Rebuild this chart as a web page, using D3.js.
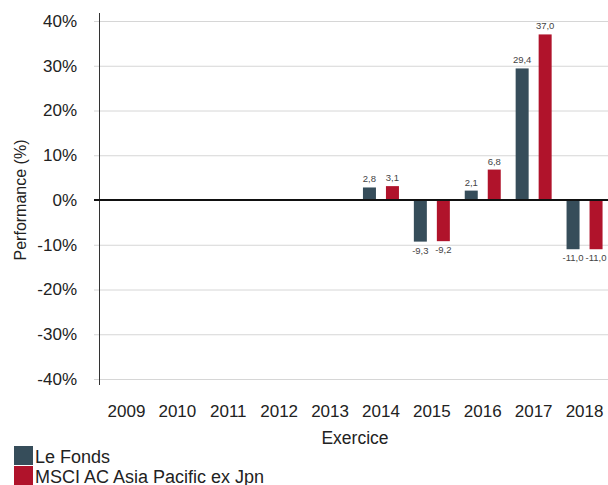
<!DOCTYPE html>
<html>
<head>
<meta charset="utf-8">
<script src="https://cdn.jsdelivr.net/npm/d3@7"></script>
<style>
  body { margin: 0; background: #fff; }
  text { font-family: "Liberation Sans", Arial, sans-serif; }
</style>
</head>
<body>
<div id="chart"></div>
<script>
// chart values
const years = ["2009", "2010", "2011", "2012", "2013", "2014", "2015", "2016", "2017", "2018"];
const fonds = [null, null, null, null, null, 2.8, -9.3, 2.1, 29.4, -11.0];
const msci = [null, null, null, null, null, 3.1, -9.2, 6.8, 37.0, -11.0];
const yTicks = [40, 30, 20, 10, 0, -10, -20, -30, -40];
const seriesNames = ["Le Fonds", "MSCI AC Asia Pacific ex Jpn"];
const seriesColors = ["#364d5a", "#b0132b"];

let width = 608, height = 485;
let margin = {top: 21, left: 99, right: 0};

let svg = d3.select("#chart").append("svg")
  .attr("width", width)
  .attr("height", height);

let xScale = d3.scaleBand()
  .domain(years)
  .range([margin.left + 2, width + 2])
  .paddingInner(0)
  .paddingOuter(0);

let yScale = d3.scaleLinear()
  .domain([-40, 40])
  .range([379, 21]);

// grid lines
svg.append("g")
  .selectAll("line")
  .data(yTicks)
  .enter().append("line")
  .attr("x1", margin.left - 5)
  .attr("x2", width)
  .attr("y1", d => yScale(d) + 0.5)
  .attr("y2", d => yScale(d) + 0.5)
  .attr("stroke", "#d6d6d6")
  .attr("stroke-width", 1);

// y axis labels
svg.append("g")
  .selectAll("text")
  .data(yTicks)
  .enter().append("text")
  .attr("x", 77)
  .attr("y", d => yScale(d))
  .attr("dy", "0.35em")
  .attr("text-anchor", "end")
  .attr("font-size", 17)
  .attr("fill", "#222")
  .text(d => d + "%");

// vertical axis line
svg.append("line")
  .attr("x1", margin.left + 0.5)
  .attr("x2", margin.left + 0.5)
  .attr("y1", 13)
  .attr("y2", 385)
  .attr("stroke", "#333")
  .attr("stroke-width", 1);

// bars
let barW = 13, gap = 10;
let offsets = [-(gap / 2 + barW), gap / 2];
let series = [fonds, msci];

series.forEach(function(values, s) {
  let data = years.map((y, i) => ({year: y, v: values[i]})).filter(d => d.v !== null);
  let g = svg.append("g");
  g.selectAll("rect")
    .data(data)
    .enter().append("rect")
    .attr("x", d => xScale(d.year) + xScale.bandwidth() / 2 + offsets[s])
    .attr("width", barW)
    .attr("y", d => yScale(Math.max(0, d.v)))
    .attr("height", d => Math.abs(yScale(d.v) - yScale(0)))
    .attr("fill", seriesColors[s]);

  g.selectAll("text")
    .data(data)
    .enter().append("text")
    .attr("x", d => xScale(d.year) + xScale.bandwidth() / 2 + offsets[s] + barW / 2)
    .attr("y", d => d.v >= 0 ? yScale(d.v) - 5 : yScale(d.v) + 12)
    .attr("text-anchor", "middle")
    .attr("font-size", 9.5)
    .attr("fill", "#444")
    .text(d => d3.format(".1f")(d.v).replace(".", ",").replace("−", "-"));
});

// zero line
svg.append("line")
  .attr("x1", margin.left - 5)
  .attr("x2", width)
  .attr("y1", yScale(0))
  .attr("y2", yScale(0))
  .attr("stroke", "#111")
  .attr("stroke-width", 2);

// x labels
svg.append("g")
  .selectAll("text")
  .data(years)
  .enter().append("text")
  .attr("x", d => xScale(d) + xScale.bandwidth() / 2)
  .attr("y", 417)
  .attr("text-anchor", "middle")
  .attr("font-size", 17)
  .attr("fill", "#222")
  .text(d => d);

// axis titles
svg.append("text")
  .attr("x", 355)
  .attr("y", 444)
  .attr("text-anchor", "middle")
  .attr("font-size", 17.5)
  .attr("fill", "#222")
  .text("Exercice");

svg.append("text")
  .attr("transform", "translate(26,200) rotate(-90)")
  .attr("text-anchor", "middle")
  .attr("font-size", 16)
  .attr("fill", "#222")
  .text("Performance (%)");

// legend
let legend = svg.append("g");
seriesNames.forEach(function(name, i) {
  legend.append("rect")
    .attr("x", 14)
    .attr("y", 446 + i * 20)
    .attr("width", 19)
    .attr("height", 19)
    .attr("fill", seriesColors[i]);
  legend.append("text")
    .attr("x", 35)
    .attr("y", 463 + i * 20)
    .attr("font-size", 18)
    .attr("fill", "#222")
    .text(name);
});
</script>
</body>
</html>
